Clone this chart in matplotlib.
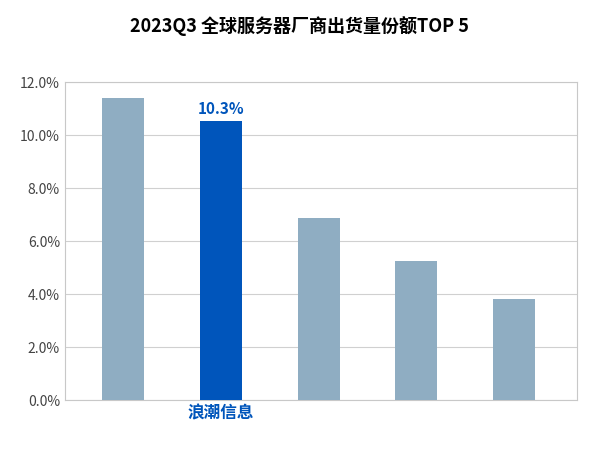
import matplotlib.pyplot as plt
from matplotlib.ticker import FuncFormatter

plt.rcParams['font.family'] = ['Noto Sans CJK SC', 'DejaVu Sans']

vendors = ["", "浪潮信息", "", "", ""]
shares = [11.4, 10.55, 6.87, 5.25, 3.81]
colors = ["#8fadc2", "#0055bb", "#8fadc2", "#8fadc2", "#8fadc2"]
highlight_label = "10.3%"

fig = plt.figure(figsize=(6, 4.49), dpi=100)
ax = fig.add_axes([0.108, 0.109, 0.854, 0.708])
x = range(len(shares))
ax.bar(x, shares, width=0.43, color=colors, zorder=3)
ax.text(1, shares[1] + 0.15, highlight_label, ha="center", va="bottom",
        color="#0055bb", fontsize=11, fontweight="bold")

ax.set_ylim(0, 12)
ax.set_xlim(-0.6, 4.65)
ax.set_yticks([0, 2, 4, 6, 8, 10, 12])
ax.yaxis.set_major_formatter(FuncFormatter(lambda v, _: f"{v:.1f}%"))
ax.grid(axis="y", color="#d0d0d0", lw=0.8, zorder=0)
for s in ax.spines.values():
    s.set_color("#c8c8c8")
ax.tick_params(length=0, labelsize=10, colors="#444444")
ax.set_xticks(list(x))
ax.set_xticklabels(vendors, fontsize=12, fontweight="bold", color="#0055bb")

fig.suptitle("2023Q3 全球服务器厂商出货量份额TOP 5", y=0.965,
             fontsize=13, fontweight="bold")
fig.savefig("out.png", dpi=100)
